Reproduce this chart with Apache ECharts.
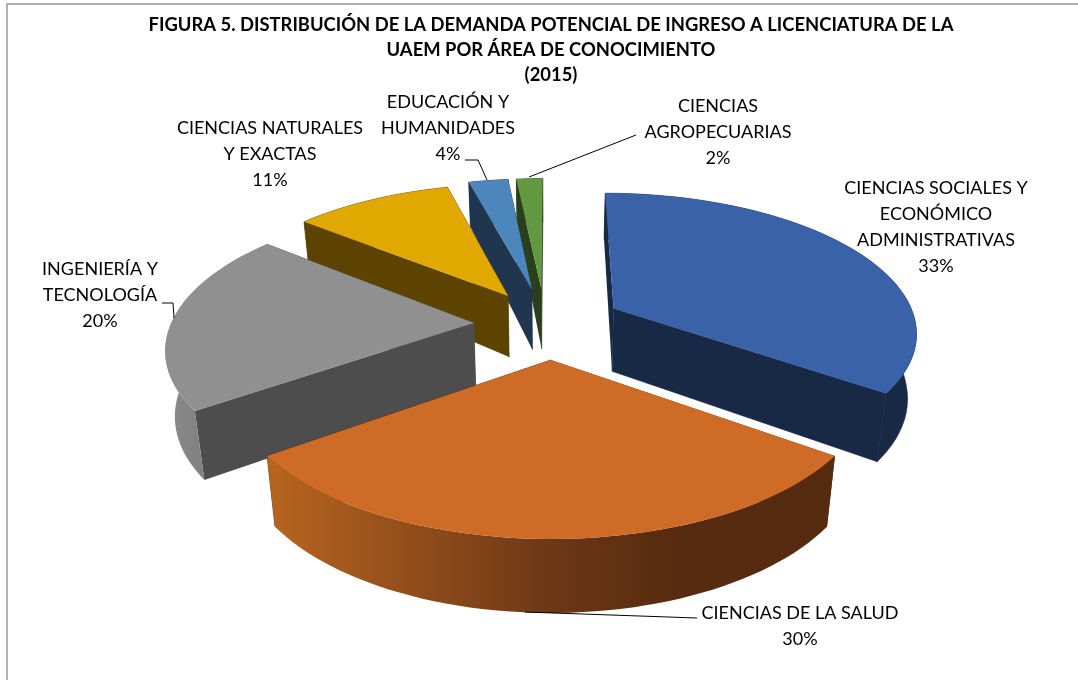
<!DOCTYPE html>
<html><head><meta charset="utf-8">
<style>html,body{margin:0;padding:0;background:#fff}#c{width:1078px;height:680px}</style>
<script src="https://cdn.jsdelivr.net/npm/echarts@6/dist/echarts.min.js"></script>
</head><body><div id="c"></div>
<script>
// ---- data ----
const categories = ['CIENCIAS SOCIALES Y\nECONÓMICO\nADMINISTRATIVAS','CIENCIAS DE LA SALUD','INGENIERÍA Y\nTECNOLOGÍA','CIENCIAS NATURALES\nY EXACTAS','EDUCACIÓN Y\nHUMANIDADES','CIENCIAS\nAGROPECUARIAS'];
const values = [33,30,20,11,4,2];
const titleLines = ['FIGURA 5. DISTRIBUCIÓN DE LA DEMANDA POTENCIAL DE INGRESO A LICENCIATURA DE LA','UAEM POR ÁREA DE CONOCIMIENTO','(2015)'];
// ---- styles ----
const topColors  = ['#3A62A9','#CD6B27','#909090','#E0A800','#4D86BA','#62983F'];
const cutColors  = ['#172945','#572B0F','#4D4D4D','#5C4400','#20364F','#2A3F1B'];
const outerFills = [
  '#172945',
  {type:'linear',x:0,y:0,x2:1,y2:0,colorStops:[{offset:0,color:'#B8651F'},{offset:.5,color:'#6D3716'},{offset:.72,color:'#572B0F'},{offset:1,color:'#552A0F'}]},
  {type:'linear',x:0,y:0,x2:1,y2:0,colorStops:[{offset:0,color:'#8A8A8A'},{offset:1,color:'#6E6E6E'}]},
  '#5C4400','#20364F','#2A3F1B'];
// ---- projection (Excel-like 3D pie camera) ----
const cam = {cx:551,cy:324,a:303,b:138,c:66.6,p:.158,q:.025,backThin:13,explode:.25};
const warpStops = [[0,0],[118.8,125.5],[226.8,234.5],[298.8,309],[338.4,345],[352.8,354],[360,360]];
const shift = [[-.012,0],[0,0],[-.005,0],[-.01,0],[-.02,-.015],[-.02,-.015]];
const paintOrder = [5,4,3,2,0,1];
function warp(d){for(let i=1;i<warpStops.length;i++){const A=warpStops[i-1],B=warpStops[i];if(d<=B[0])return A[1]+(B[1]-A[1])*(d-A[0])/(B[0]-A[0]);}return d;}
function proj(U,V,t){
  const w=1-cam.p*V+cam.q*t, c=cam.c+cam.backThin*Math.min(V,0);
  return [cam.cx+cam.a*U/w, cam.cy+(cam.b*V+c*t)/w];
}
const total = values.reduce((s,v)=>s+v,0);
function sliceGeom(i){
  const before = values.slice(0,i).reduce((s,v)=>s+v,0);
  const d0=before/total*360, d1=(before+values[i])/total*360;
  const a0=warp(d0), a1=warp(d1), mid=(a0+a1)/2*Math.PI/180;
  const oU=cam.explode*Math.sin(mid)+shift[i][0], oV=-cam.explode*Math.cos(mid)+shift[i][1];
  const arc=[]; const n=Math.max(6,Math.ceil((a1-a0)/2));
  for(let k=0;k<=n;k++){const th=(a0+(a1-a0)*k/n)*Math.PI/180;arc.push([oU+Math.sin(th),oV-Math.cos(th)]);}
  return {oU,oV,arc};
}
function poly(pts,fill,seam){return {type:'polygon',shape:{points:pts},style:{fill:fill,stroke:seam||null,lineWidth:seam?.6:0}};}
function renderSlice(params){
  const i=paintOrder[params.dataIndex], g=sliceGeom(i), ap=[g.oU,g.oV];
  const P=(q,t)=>proj(q[0],q[1],t);
  const first=g.arc[0], last=g.arc[g.arc.length-1], kids=[];
  const seam=typeof outerFills[i]==='string'?outerFills[i]:null;
  kids.push(poly([P(ap,0),P(first,0),P(first,1),P(ap,1)],cutColors[i]));
  kids.push(poly([P(ap,0),P(last,0),P(last,1),P(ap,1)],cutColors[i],cutColors[i]));
  kids.push(poly(g.arc.map(q=>P(q,0)).concat(g.arc.slice().reverse().map(q=>P(q,1))),outerFills[i],seam));
  kids.push(poly([P(ap,0)].concat(g.arc.map(q=>P(q,0))),topColors[i]));
  return {type:'group',children:kids};
}
// ---- label layout ----
const labelPos = [[936,188],[800,613],[100,269],[270,128],[448,102],[718,106]];
const LINE_H = 26;
const leaders = [
  [[697,618],[525,612]],
  [[162,303],[173,303],[174,318]],
  [[465,160],[478,160],[487,180]],
  [[636,135],[529,177]]
];
const font = {fontFamily:'Lato',fontSize:18,fill:'#000'};
function renderLabel(params){
  const i=params.dataIndex, lines=categories[i].split('\n').concat([values[i]+'%']), p=labelPos[i];
  return {type:'group',children:lines.map((s,k)=>({type:'text',x:p[0],y:p[1]+k*LINE_H,
    style:Object.assign({text:s,textAlign:'center',textVerticalAlign:'middle'},font)}))};
}
const chart=echarts.init(document.getElementById('c'),null,{renderer:'canvas'});
chart.setOption({
  animation:false,
  backgroundColor:'#fff',
  title:{text:titleLines.join('\n'),left:546,top:8,textAlign:'center',
    textStyle:{fontFamily:'Lato',fontWeight:'bold',fontSize:18.4,lineHeight:25,color:'#000'}},
  graphic:[
    {type:'rect',z:0,shape:{x:7,y:4,width:1200,height:900},style:{fill:'#fff',stroke:'#999',lineWidth:1.5},silent:true}
  ].concat(leaders.map(pts=>({type:'polyline',z:5,shape:{points:pts},style:{stroke:'#000',lineWidth:1,fill:null},silent:true}))),
  series:[
    {type:'custom',coordinateSystem:'none',z:3,data:paintOrder.map(i=>values[i]),renderItem:renderSlice,silent:true},
    {type:'custom',coordinateSystem:'none',z:6,data:values,renderItem:renderLabel,silent:true}
  ]
});
</script></body></html>
